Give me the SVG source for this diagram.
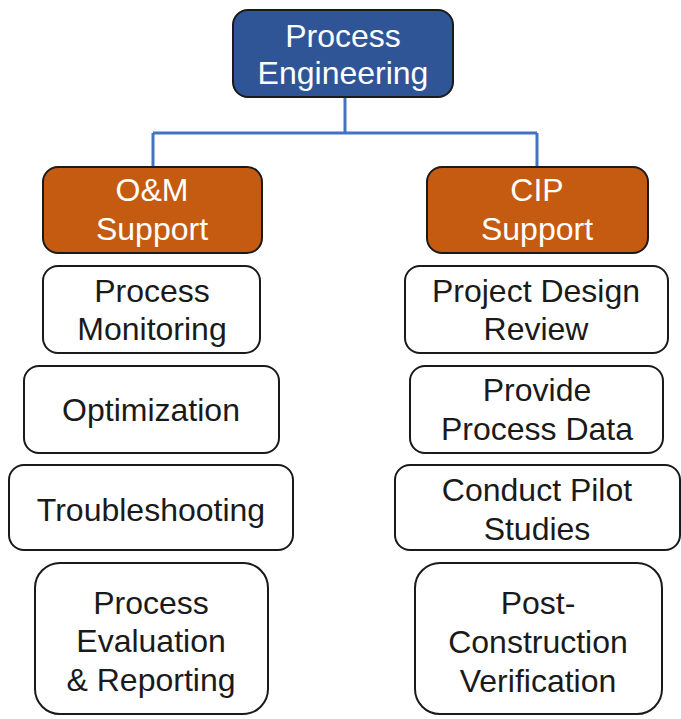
<svg xmlns="http://www.w3.org/2000/svg" width="681" height="719" viewBox="0 0 681 719">
<style>
.box{fill:#ffffff;stroke:#1a1a1a;stroke-width:2}
.top{fill:#2F5597;stroke:#1a1a1a;stroke-width:2}
.org{fill:#C55A11;stroke:#1a1a1a;stroke-width:2}
.conn{fill:none;stroke:#4472C4;stroke-width:3}
text{font-family:"Liberation Sans",Arial,sans-serif;font-size:32px;text-anchor:middle}
.w{fill:#ffffff}
.k{fill:#1a1a1a}
</style>
<rect width="681" height="719" fill="#ffffff"/>
<g id="connectors">
<path class="conn" d="M345 97 V133 M153 133 H537 M153 133 V167 M537 133 V167"/>
</g>
<g id="process-engineering">
<rect class="top" x="233" y="10" width="220" height="87" rx="15"/>
<text class="w" x="343" y="47">Process</text>
<text class="w" x="343" y="84">Engineering</text>
</g>
<g id="om-support">
<rect class="org" x="43" y="167" width="219" height="86" rx="15"/>
<text class="w" x="152" y="201">O&amp;M</text>
<text class="w" x="152" y="240">Support</text>
</g>
<g id="cip-support">
<rect class="org" x="427" y="167" width="221" height="86" rx="15"/>
<text class="w" x="537" y="201">CIP</text>
<text class="w" x="537" y="240">Support</text>
</g>
<g id="process-monitoring">
<rect class="box" x="43" y="266" width="217" height="87" rx="15"/>
<text class="k" x="152" y="302">Process</text>
<text class="k" x="152" y="340">Monitoring</text>
</g>
<g id="project-design-review">
<rect class="box" x="405" y="266" width="263" height="87" rx="15"/>
<text class="k" x="536" y="302">Project Design</text>
<text class="k" x="536" y="340">Review</text>
</g>
<g id="optimization">
<rect class="box" x="24" y="366" width="255" height="87" rx="15"/>
<text class="k" x="151" y="421">Optimization</text>
</g>
<g id="provide-process-data">
<rect class="box" x="410" y="366" width="253" height="87" rx="15"/>
<text class="k" x="537" y="401">Provide</text>
<text class="k" x="537" y="440">Process Data</text>
</g>
<g id="troubleshooting">
<rect class="box" x="9" y="465" width="284" height="85" rx="15"/>
<text class="k" x="151" y="521">Troubleshooting</text>
</g>
<g id="conduct-pilot-studies">
<rect class="box" x="395" y="465" width="285" height="85" rx="15"/>
<text class="k" x="537" y="501">Conduct Pilot</text>
<text class="k" x="537" y="540">Studies</text>
</g>
<g id="process-evaluation-reporting">
<rect class="box" x="35" y="563" width="233" height="151" rx="25"/>
<text class="k" x="151" y="614">Process</text>
<text class="k" x="151" y="652">Evaluation</text>
<text class="k" x="151" y="691">&amp; Reporting</text>
</g>
<g id="post-construction-verification">
<rect class="box" x="415" y="563" width="247" height="151" rx="25"/>
<text class="k" x="538" y="614">Post-</text>
<text class="k" x="538" y="653">Construction</text>
<text class="k" x="538" y="692">Verification</text>
</g>
</svg>
